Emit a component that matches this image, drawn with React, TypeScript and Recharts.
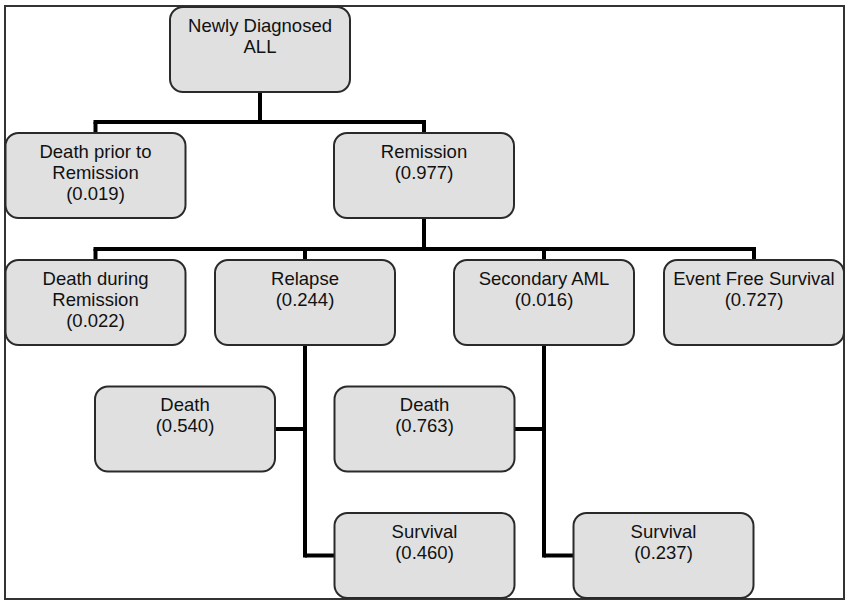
import React from 'react';
import {
  ScatterChart,
  Scatter,
  XAxis,
  YAxis,
  ReferenceLine,
  ReferenceArea
} from 'recharts';

// tree states, their probabilities and which state each one branches from
const stateLabels = [
  ['Newly Diagnosed', 'ALL'],
  ['Death prior to', 'Remission'],
  ['Remission'],
  ['Death during', 'Remission'],
  ['Relapse'],
  ['Secondary AML'],
  ['Event Free Survival'],
  ['Death'],
  ['Survival'],
  ['Death'],
  ['Survival']
];
const probabilities = [null, 0.019, 0.977, 0.022, 0.244, 0.016, 0.727, 0.54, 0.46, 0.763, 0.237];
const parentIndex = [-1, 0, 0, 2, 2, 2, 2, 4, 4, 5, 5];

// layout in diagram units (1 unit = 1px)
const W = 849;
const H = 606;
const BOX_W = 180;
const BOX_H = 85;
const LINE_W = 4;
const rowCenters = [49.5, 175.5, 302.5, 429, 555.5];
const nodeRow = [0, 1, 1, 2, 2, 2, 2, 3, 4, 3, 4];
const nodeCenterX = [260, 95.5, 424, 95.5, 305, 544, 754, 185, 424.5, 424.5, 663.5];

const nodes = stateLabels.map((lines, i) => ({
  id: i,
  x: nodeCenterX[i],
  y: rowCenters[nodeRow[i]],
  lines: probabilities[i] == null ? lines : [...lines, `(${probabilities[i]!.toFixed(3)})`]
}));

type Seg = [{ x: number; y: number }, { x: number; y: number }];

const buildConnectors = (): Seg[] => {
  const segs: Seg[] = [];
  nodes.forEach((p) => {
    const kids = nodes.filter((n) => parentIndex[n.id] === p.id);
    if (!kids.length) return;
    const bottom = p.y + BOX_H / 2;
    const sameRow = new Set(kids.map((k) => k.y)).size === 1;
    if (sameRow) {
      const top = kids[0].y - BOX_H / 2;
      const midY = top - 11;
      const xs = kids.map((k) => k.x);
      segs.push([{ x: p.x, y: bottom }, { x: p.x, y: midY }]);
      segs.push([
        { x: Math.min(...xs) - LINE_W / 2, y: midY },
        { x: Math.max(...xs) + LINE_W / 2, y: midY }
      ]);
      kids.forEach((k) => segs.push([{ x: k.x, y: midY }, { x: k.x, y: top }]));
    } else {
      const lastY = Math.max(...kids.map((k) => k.y));
      segs.push([{ x: p.x, y: bottom }, { x: p.x, y: lastY + LINE_W / 2 }]);
      kids.forEach((k) => {
        const edge = k.x < p.x ? k.x + BOX_W / 2 : k.x - BOX_W / 2;
        segs.push([{ x: p.x, y: k.y }, { x: edge, y: k.y }]);
      });
    }
  });
  return segs;
};

const connectors = buildConnectors();

const StateBox = (props: any) => {
  const { cx, cy, payload } = props;
  const left = cx - BOX_W / 2;
  const top = cy - BOX_H / 2;
  return (
    <g>
      <rect
        x={left}
        y={top}
        width={BOX_W}
        height={BOX_H}
        rx={13}
        ry={13}
        fill="#e0e0e0"
        stroke="#2a2a2a"
        strokeWidth={2}
      />
      <text
        x={cx}
        y={top + 24.5}
        textAnchor="middle"
        fontFamily="'Liberation Sans', Arial, sans-serif"
        fontSize={18.5}
        fill="#111"
      >
        {payload.lines.map((l: string, i: number) => (
          <tspan key={i} x={cx} dy={i === 0 ? 0 : 21}>
            {l}
          </tspan>
        ))}
      </text>
    </g>
  );
};

const App = () => {
  return (
    <div style={{ position: 'absolute', left: 0, top: 0, background: '#fff' }}>
      <ScatterChart width={W} height={H} margin={{ top: 0, right: 0, bottom: 0, left: 0 }}>
        <XAxis type="number" dataKey="x" domain={[0, W]} hide />
        <YAxis type="number" dataKey="y" domain={[0, H]} reversed hide />
        <ReferenceArea
          x1={5}
          x2={844}
          y1={6}
          y2={599}
          fill="none"
          fillOpacity={0}
          stroke="#333"
          strokeWidth={2}
          ifOverflow="visible"
        />
        {connectors.map((s, i) => (
          <ReferenceLine
            key={i}
            segment={s}
            stroke="#000"
            strokeWidth={LINE_W}
            ifOverflow="visible"
          />
        ))}
        <Scatter data={nodes} shape={StateBox} isAnimationActive={false} />
      </ScatterChart>
    </div>
  );
};

export default App;
